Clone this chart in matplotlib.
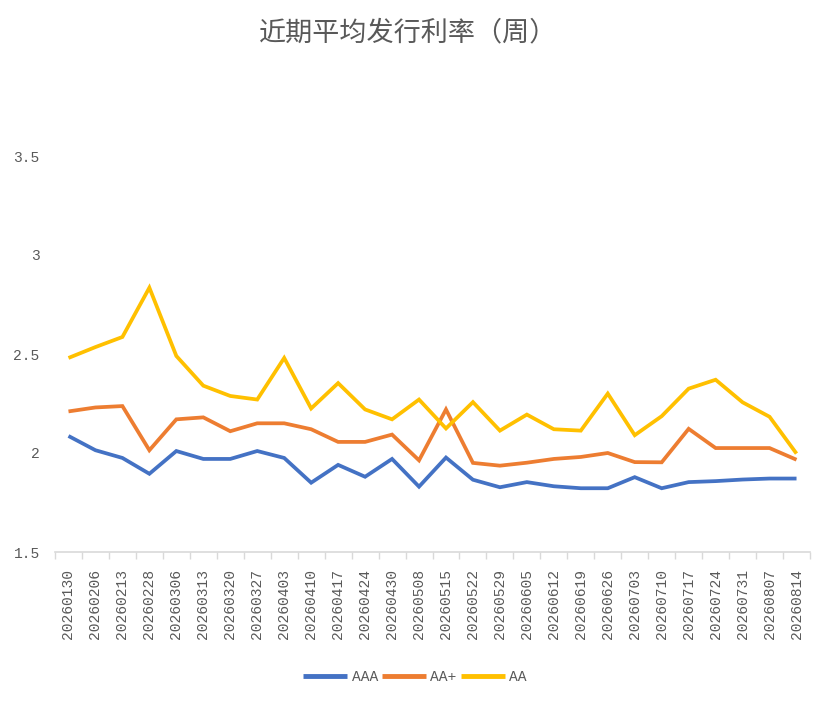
import matplotlib
matplotlib.use("Agg")
import matplotlib.pyplot as plt
import numpy as np

dates = [
    "20260130", "20260206", "20260213", "20260228", "20260306", "20260313",
    "20260320", "20260327", "20260403", "20260410", "20260417", "20260424",
    "20260430", "20260508", "20260515", "20260522", "20260529", "20260605",
    "20260612", "20260619", "20260626", "20260703", "20260710", "20260717",
    "20260724", "20260731", "20260807", "20260814",
]

aaa = [
    2.086, 2.014, 1.975, 1.895, 2.010, 1.970, 1.970, 2.010, 1.975, 1.850,
    1.940, 1.880, 1.970, 1.830, 1.977, 1.865, 1.827, 1.853, 1.832, 1.822,
    1.822, 1.878, 1.822, 1.853, 1.858, 1.866, 1.871, 1.871,
]
aa_plus = [
    2.210, 2.230, 2.237, 2.014, 2.170, 2.180, 2.110, 2.150, 2.150, 2.120,
    2.056, 2.056, 2.093, 1.963, 2.220, 1.950, 1.936, 1.951, 1.970, 1.980,
    2.000, 1.954, 1.953, 2.122, 2.025, 2.025, 2.025, 1.966,
]
aa = [
    2.480, 2.535, 2.586, 2.835, 2.490, 2.340, 2.288, 2.270, 2.480, 2.225,
    2.353, 2.220, 2.170, 2.270, 2.124, 2.257, 2.113, 2.194, 2.120, 2.113,
    2.300, 2.090, 2.186, 2.325, 2.370, 2.256, 2.183, 1.997,
]

series = [
    ("AAA", aaa, "#4472C4"),
    ("AA+", aa_plus, "#ED7D31"),
    ("AA", aa, "#FFC000"),
]

text_color = "#595959"
num_font = "Liberation Mono"

fig = plt.figure(figsize=(8.3, 7.05), dpi=100)
ax = fig.add_axes([55 / 830, 1 - 552 / 705, 755 / 830, 396 / 705])

x = np.arange(len(dates))
for name, vals, color in series:
    ax.plot(x, vals, color=color, linewidth=2.7, label=name,
            solid_joinstyle="miter", solid_capstyle="butt")

ax.set_xlim(-0.5, len(dates) - 0.5)
ax.set_ylim(1.5, 3.5)
ax.set_yticks([1.5, 2, 2.5, 3, 3.5])
ax.set_yticklabels(["1.5", "2", "2.5", "3", "3.5"])

ax.set_xticks(x)
ax.set_xticklabels(dates, rotation=90)
ax.set_xticks(np.arange(-0.5, len(dates)), minor=True)
ax.tick_params(axis="x", which="major", length=0, pad=12,
               labelsize=10.5, labelcolor=text_color)
ax.tick_params(axis="x", which="minor", length=5, width=1, color="#D9D9D9",
               direction="out")
ax.tick_params(axis="y", length=0, pad=11, labelsize=10.5,
               labelcolor=text_color)
for lab in ax.get_xticklabels() + ax.get_yticklabels():
    lab.set_fontfamily(num_font)

for side in ["top", "right", "left"]:
    ax.spines[side].set_visible(False)
ax.spines["bottom"].set_color("#D9D9D9")
ax.spines["bottom"].set_linewidth(1.2)

fig.text(0.492, 1 - 33 / 705, "近期平均发行利率（周）",
         family=["Noto Sans CJK SC", "DejaVu Sans"], fontsize=19.5,
         color=text_color, ha="center", va="center")

leg = fig.legend(loc="center", bbox_to_anchor=(0.5, 1 - 677 / 705), ncol=3,
                 frameon=False, handlelength=3.0, handletextpad=0.3,
                 columnspacing=0.3,
                 prop={"family": num_font, "size": 10.5})
for t in leg.get_texts():
    t.set_color(text_color)
for h in leg.get_lines():
    h.set_linewidth(3.5)

fig.savefig("out.png", dpi=100)
